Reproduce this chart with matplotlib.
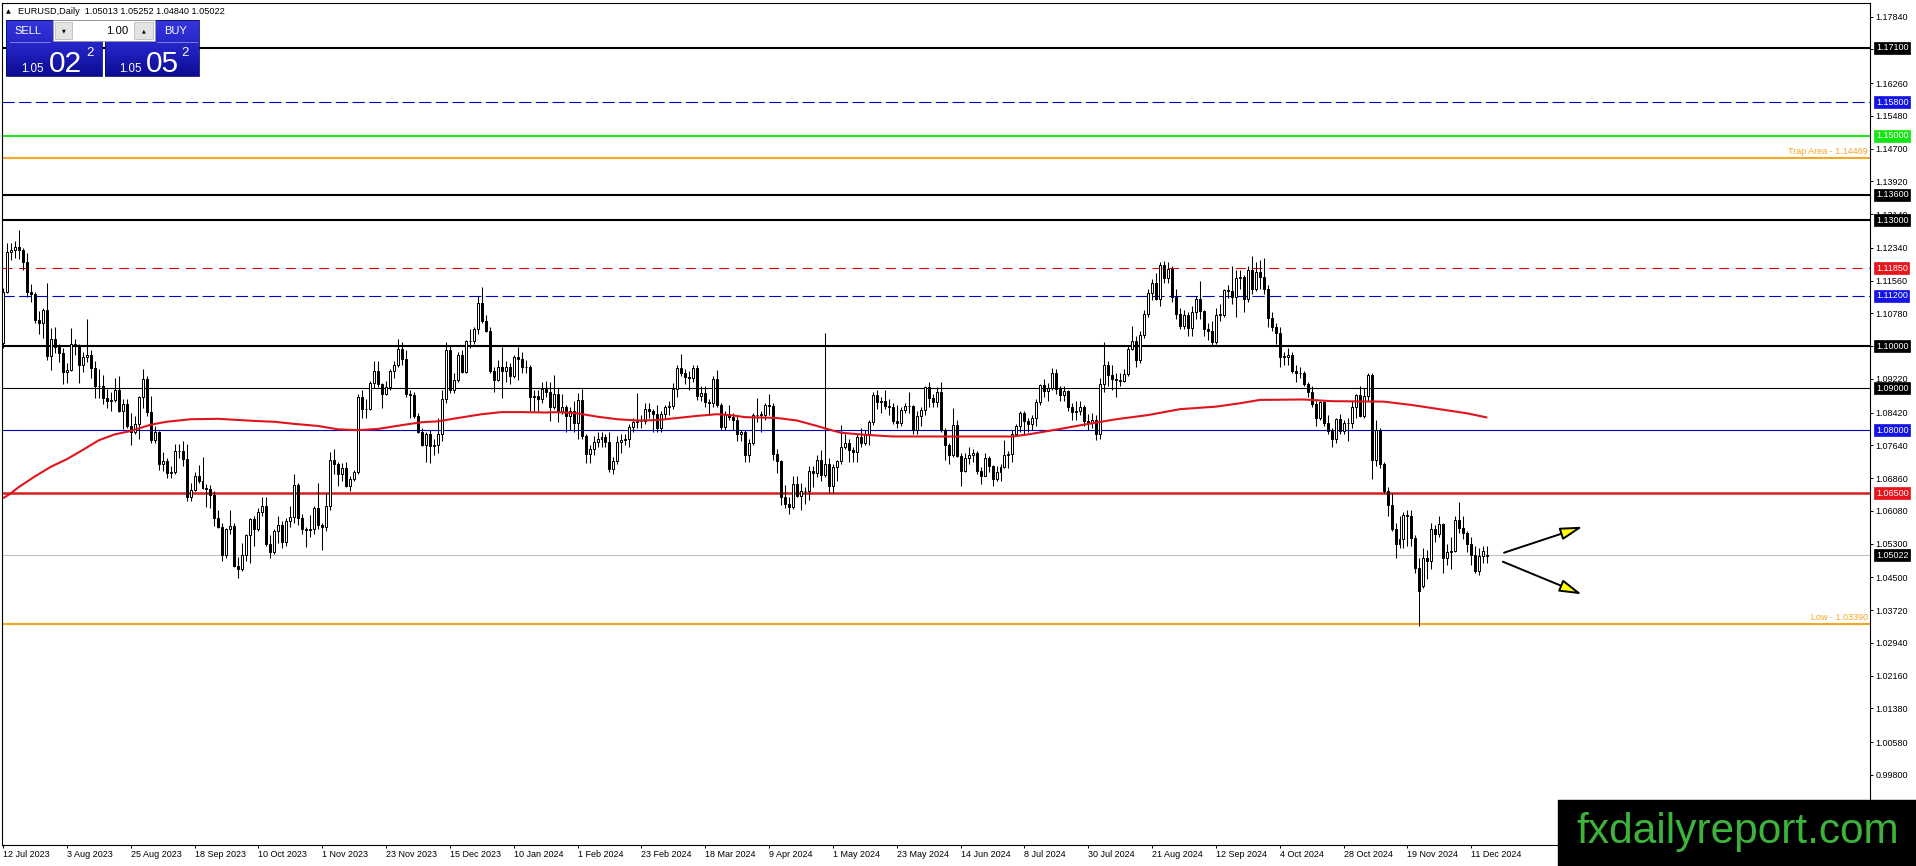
import matplotlib
matplotlib.use("Agg")
import matplotlib.pyplot as plt
import numpy as np
from matplotlib.patches import Rectangle
from matplotlib.colors import LinearSegmentedColormap

plt.rcParams['font.family'] = ['Liberation Sans', 'DejaVu Sans']

# ---------------- data (EURUSD daily, 12 Jul 2023 .. 17 Dec 2024) ----------------
opens = [
 1.1008,1.1129,1.1224,1.1229,1.1237,1.1228,1.1200,1.1129,1.1124,1.1063,
 1.1055,1.1087,1.0977,1.1016,1.0997,1.0983,1.0938,1.0944,1.1006,1.1002,
 1.0956,1.0974,1.0980,1.0948,1.0905,1.0905,1.0876,1.0870,1.0872,1.0895,
 1.0846,1.0863,1.0810,1.0795,1.0815,1.0880,1.0921,1.0843,1.0776,1.0795,
 1.0720,1.0726,1.0697,1.0700,1.0750,1.0750,1.0731,1.0642,1.0657,1.0690,
 1.0679,1.0662,1.0659,1.0645,1.0592,1.0570,1.0502,1.0566,1.0573,1.0478,
 1.0470,1.0503,1.0550,1.0588,1.0565,1.0605,1.0620,1.0530,1.0510,1.0560,
 1.0575,1.0535,1.0585,1.0593,1.0670,1.0590,1.0565,1.0563,1.0565,1.0615,
 1.0575,1.0570,1.0620,1.0728,1.0720,1.0695,1.0710,1.0667,1.0683,1.0700,
 1.0878,1.0850,1.0850,1.0912,1.0940,1.0911,1.0887,1.0903,1.0940,1.0955,
 1.0993,1.0969,1.0886,1.0884,1.0834,1.0795,1.0764,1.0792,1.0762,1.0765,
 1.0792,1.0873,1.0991,1.0895,1.0920,1.0980,1.0938,1.1011,1.1012,1.1040,
 1.1102,1.1060,1.1035,1.0940,1.0920,1.0950,1.0940,1.0950,1.0930,1.0973,
 1.0970,1.0950,1.0950,1.0878,1.0882,1.0875,1.0897,1.0890,1.0855,1.0885,
 1.0845,1.0855,1.0833,1.0845,1.0818,1.0872,1.0787,1.0743,1.0755,1.0772,
 1.0778,1.0784,1.0772,1.0708,1.0727,1.0773,1.0777,1.0778,1.0808,1.0820,
 1.0823,1.0822,1.0851,1.0845,1.0838,1.0805,1.0838,1.0855,1.0857,1.0897,
 1.0948,1.0937,1.0927,1.0925,1.0948,1.0882,1.0888,1.0868,1.0865,1.0922,
 1.0860,1.0808,1.0838,1.0832,1.0825,1.0790,1.0795,1.0742,1.0770,1.0835,
 1.0837,1.0837,1.0860,1.0857,1.0743,1.0727,1.0642,1.0624,1.0618,1.0672,
 1.0644,1.0655,1.0655,1.0703,1.0697,1.0728,1.0693,1.0720,1.0666,1.0712,
 1.0727,1.0760,1.0770,1.0754,1.0749,1.0783,1.0770,1.0790,1.0820,1.0883,
 1.0866,1.0870,1.0858,1.0856,1.0822,1.0818,1.0847,1.0858,1.0857,1.0801,
 1.0834,1.0848,1.0903,1.0877,1.0867,1.0892,1.0801,1.0765,1.0740,1.0812,
 1.0739,1.0703,1.0734,1.0740,1.0746,1.0702,1.0692,1.0733,1.0715,1.0683,
 1.0700,1.0713,1.0740,1.0743,1.0791,1.0811,1.0841,1.0823,1.0814,1.0829,
 1.0868,1.0907,1.0894,1.0900,1.0937,1.0898,1.0883,1.0893,1.0855,1.0843,
 1.0845,1.0855,1.0822,1.0816,1.0825,1.0790,1.0910,1.0955,1.0931,1.0921,
 1.0920,1.0917,1.0933,1.0993,1.1012,1.0966,1.1027,1.1077,1.1127,1.1150,
 1.1113,1.1192,1.1162,1.1184,1.1118,1.1077,1.1047,1.1073,1.1044,1.1082,
 1.1112,1.1083,1.1040,1.1036,1.1010,1.1075,1.1075,1.1133,1.1132,1.1118,
 1.1161,1.1164,1.1112,1.1180,1.1135,1.1177,1.1165,1.1135,1.1068,1.1045,
 1.1032,1.0975,1.0975,1.0980,1.0940,1.0936,1.0937,1.0910,1.0890,1.0862,
 1.0830,1.0867,1.0817,1.0798,1.0780,1.0827,1.0797,1.0816,1.0817,1.0856,
 1.0884,1.0834,1.0882,1.0932,1.0729,1.0801,1.0720,1.0655,1.0623,1.0564,
 1.0530,1.0540,1.0597,1.0596,1.0544,1.0473,1.0430,1.0497,1.0488,1.0566,
 1.0552,1.0577,1.0497,1.0510,1.0512,1.0587,1.0568,1.0555,1.0529,1.0502,
 1.0466,1.0500,1.05013]

highs = [
 1.1139,1.1245,1.1245,1.1250,1.1276,1.1234,1.1221,1.1148,1.1128,1.1083,
 1.1090,1.1149,1.1043,1.1046,1.1004,1.0995,1.0961,1.1042,1.1018,1.1004,
 1.0987,1.1065,1.0991,1.0965,1.0945,1.0932,1.0897,1.0892,1.0925,1.0930,
 1.0874,1.0875,1.0842,1.0833,1.0882,1.0946,1.0930,1.0882,1.0810,1.0799,
 1.0747,1.0734,1.0715,1.0768,1.0768,1.0775,1.0768,1.0675,1.0700,1.0718,
 1.0736,1.0673,1.0669,1.0655,1.0610,1.0580,1.0568,1.0610,1.0578,1.0498,
 1.0532,1.0553,1.0592,1.0595,1.0615,1.0640,1.0640,1.0550,1.0565,1.0595,
 1.0583,1.0590,1.0620,1.0695,1.0675,1.0600,1.0570,1.0598,1.0620,1.0675,
 1.0580,1.0650,1.0747,1.0755,1.0725,1.0722,1.0725,1.0690,1.0705,1.0887,
 1.0895,1.0873,1.0916,1.0965,1.0965,1.0913,1.0918,1.0945,1.0965,1.1017,
 1.1010,1.0990,1.0895,1.0890,1.0840,1.0805,1.0795,1.0800,1.0778,1.0828,
 1.0895,1.1010,1.1000,1.0935,1.0985,1.0990,1.1015,1.1040,1.1045,1.1120,
 1.1140,1.1075,1.1045,1.0950,1.0968,1.0998,1.0965,1.0960,1.0978,1.0998,
 1.0985,1.0968,1.0955,1.0895,1.0895,1.0915,1.0917,1.0915,1.0932,1.0900,
 1.0885,1.0860,1.0855,1.0870,1.0888,1.0897,1.0790,1.0765,1.0785,1.0795,
 1.0795,1.0790,1.0795,1.0735,1.0785,1.0790,1.0790,1.0815,1.0830,1.0888,
 1.0835,1.0865,1.0865,1.0850,1.0860,1.0845,1.0860,1.0870,1.0912,1.0955,
 1.0981,1.0945,1.0940,1.0955,1.0955,1.0905,1.0905,1.0875,1.0930,1.0942,
 1.0865,1.0845,1.0860,1.0840,1.0835,1.0800,1.0800,1.0780,1.0840,1.0876,
 1.0845,1.0865,1.0885,1.0865,1.0755,1.0730,1.0670,1.0640,1.0690,1.0690,
 1.0675,1.0665,1.0715,1.0715,1.0740,1.0752,1.1031,1.0733,1.0720,1.0730,
 1.0812,1.0790,1.0780,1.0760,1.0790,1.0805,1.0800,1.0825,1.0890,1.0895,
 1.0880,1.0895,1.0875,1.0865,1.0860,1.0855,1.0865,1.0890,1.0860,1.0845,
 1.0855,1.0905,1.0915,1.0885,1.0902,1.0915,1.0805,1.0770,1.0852,1.0825,
 1.0745,1.0745,1.0761,1.0755,1.0750,1.0712,1.0745,1.0738,1.0718,1.0715,
 1.0720,1.0776,1.0750,1.0800,1.0815,1.0845,1.0845,1.0830,1.0835,1.0875,
 1.0910,1.0922,1.0912,1.0948,1.0945,1.0905,1.0905,1.0895,1.0865,1.0870,
 1.0870,1.0860,1.0838,1.0840,1.0835,1.0925,1.1009,1.0965,1.0955,1.0935,
 1.0935,1.0945,1.1000,1.1047,1.1025,1.1035,1.1085,1.1135,1.1160,1.1175,
 1.1200,1.1202,1.1200,1.1190,1.1135,1.1090,1.1085,1.1080,1.1095,1.1120,
 1.1155,1.1085,1.1055,1.1060,1.1090,1.1100,1.1135,1.1145,1.1190,1.1180,
 1.1180,1.1170,1.1190,1.1214,1.1200,1.1205,1.1210,1.1145,1.1082,1.1055,
 1.1045,1.0985,1.0995,1.0985,1.0955,1.0950,1.0940,1.0915,1.0905,1.0870,
 1.0870,1.0870,1.0835,1.0805,1.0830,1.0838,1.0825,1.0830,1.0870,1.0885,
 1.0905,1.0900,1.0937,1.0937,1.0825,1.0805,1.0725,1.0665,1.0650,1.0580,
 1.0595,1.0605,1.0610,1.0610,1.0550,1.0495,1.0520,1.0515,1.0580,1.0575,
 1.0595,1.0578,1.0530,1.0545,1.0595,1.0630,1.0595,1.0560,1.0545,1.0525,
 1.0520,1.0525,1.05252]

lows = [
 1.0996,1.1127,1.1204,1.1210,1.1207,1.1180,1.1117,1.1104,1.1054,1.1029,
 1.1020,1.0968,1.0943,1.0983,1.0962,1.0911,1.0912,1.0940,1.0978,1.0913,
 1.0939,1.0962,1.0924,1.0877,1.0877,1.0863,1.0853,1.0846,1.0868,1.0843,
 1.0802,1.0805,1.0765,1.0790,1.0778,1.0852,1.0833,1.0770,1.0770,1.0705,
 1.0702,1.0686,1.0686,1.0695,1.0734,1.0715,1.0632,1.0632,1.0656,1.0675,
 1.0660,1.0617,1.0615,1.0573,1.0567,1.0488,1.0495,1.0552,1.0475,1.0448,
 1.0466,1.0488,1.0483,1.0525,1.0560,1.0595,1.0525,1.0495,1.0505,1.0532,
 1.0520,1.0525,1.0570,1.0580,1.0575,1.0553,1.0522,1.0545,1.0553,1.0565,
 1.0516,1.0560,1.0610,1.0695,1.0666,1.0680,1.0665,1.0655,1.0678,1.0695,
 1.0828,1.0830,1.0848,1.0900,1.0902,1.0852,1.0884,1.0895,1.0925,1.0950,
 1.0955,1.0880,1.0828,1.0830,1.0793,1.0762,1.0724,1.0723,1.0742,1.0745,
 1.0775,1.0865,1.0888,1.0888,1.0915,1.0935,1.0935,1.0995,1.1005,1.1030,
 1.1055,1.1033,1.0935,1.0892,1.0918,1.0876,1.0915,1.0910,1.0925,1.0920,
 1.0935,1.0935,1.0845,1.0845,1.0845,1.0865,1.0880,1.0822,1.0850,1.0820,
 1.0838,1.0795,1.0800,1.0795,1.0778,1.0780,1.0722,1.0722,1.0740,1.0760,
 1.0760,1.0760,1.0700,1.0695,1.0720,1.0745,1.0765,1.0760,1.0795,1.0805,
 1.0805,1.0815,1.0830,1.0795,1.0795,1.0795,1.0830,1.0835,1.0850,1.0880,
 1.0930,1.0910,1.0895,1.0915,1.0872,1.0870,1.0855,1.0835,1.0855,1.0855,
 1.0800,1.0800,1.0825,1.0800,1.0775,1.0775,1.0725,1.0725,1.0765,1.0820,
 1.0795,1.0825,1.0835,1.0728,1.0698,1.0622,1.0615,1.0601,1.0612,1.0640,
 1.0610,1.0625,1.0635,1.0665,1.0688,1.0680,1.0688,1.0650,1.0650,1.0680,
 1.0720,1.0755,1.0725,1.0725,1.0725,1.0760,1.0765,1.0765,1.0812,1.0850,
 1.0840,1.0850,1.0835,1.0815,1.0805,1.0810,1.0840,1.0840,1.0790,1.0790,
 1.0810,1.0835,1.0855,1.0855,1.0855,1.0795,1.0730,1.0720,1.0735,1.0735,
 1.0668,1.0700,1.0720,1.0725,1.0695,1.0672,1.0690,1.0700,1.0666,1.0680,
 1.0680,1.0710,1.0710,1.0725,1.0785,1.0795,1.0790,1.0795,1.0800,1.0810,
 1.0860,1.0880,1.0870,1.0895,1.0885,1.0870,1.0870,1.0845,1.0825,1.0825,
 1.0835,1.0810,1.0800,1.0805,1.0777,1.0780,1.0890,1.0905,1.0895,1.0880,
 1.0905,1.0915,1.0928,1.0990,1.0950,1.0960,1.1020,1.1070,1.1110,1.1110,
 1.1095,1.1150,1.1150,1.1105,1.1065,1.1040,1.1040,1.1025,1.1025,1.1065,
 1.1065,1.1025,1.1015,1.1001,1.1005,1.1060,1.1070,1.1115,1.1100,1.1070,
 1.1135,1.1080,1.1105,1.1125,1.1130,1.1135,1.1125,1.1045,1.1035,1.1005,
 1.0950,1.0955,1.0955,1.0935,1.0915,1.0925,1.0905,1.0880,1.0855,1.0810,
 1.0825,1.0810,1.0790,1.0761,1.0770,1.0790,1.0790,1.0775,1.0805,1.0830,
 1.0832,1.0830,1.0870,1.0683,1.0715,1.0710,1.0650,1.0595,1.0560,1.0497,
 1.0520,1.0520,1.0525,1.0525,1.0460,1.0335,1.0425,1.0445,1.0470,1.0535,
 1.0545,1.0460,1.0480,1.0470,1.0510,1.0555,1.0540,1.0510,1.0480,1.0460,
 1.0455,1.0485,1.04840]

closes = [
 1.1129,1.1224,1.1229,1.1237,1.1228,1.1200,1.1129,1.1124,1.1063,1.1055,
 1.1087,1.0977,1.1016,1.0997,1.0983,1.0938,1.0944,1.1006,1.1002,1.0956,
 1.0974,1.0980,1.0948,1.0905,1.0905,1.0876,1.0870,1.0872,1.0895,1.0846,
 1.0863,1.0810,1.0795,1.0815,1.0880,1.0921,1.0843,1.0776,1.0795,1.0720,
 1.0726,1.0697,1.0700,1.0750,1.0750,1.0731,1.0642,1.0657,1.0690,1.0679,
 1.0662,1.0659,1.0645,1.0592,1.0570,1.0502,1.0566,1.0573,1.0478,1.0470,
 1.0503,1.0550,1.0588,1.0565,1.0605,1.0620,1.0530,1.0510,1.0560,1.0575,
 1.0535,1.0585,1.0593,1.0670,1.0590,1.0565,1.0563,1.0565,1.0615,1.0575,
 1.0570,1.0620,1.0728,1.0720,1.0695,1.0710,1.0667,1.0683,1.0700,1.0878,
 1.0850,1.0850,1.0912,1.0940,1.0911,1.0887,1.0903,1.0940,1.0955,1.0993,
 1.0969,1.0886,1.0884,1.0834,1.0795,1.0764,1.0792,1.0762,1.0765,1.0792,
 1.0873,1.0991,1.0895,1.0920,1.0980,1.0938,1.1011,1.1012,1.1040,1.1102,
 1.1060,1.1035,1.0940,1.0920,1.0950,1.0940,1.0950,1.0930,1.0973,1.0970,
 1.0950,1.0950,1.0878,1.0882,1.0875,1.0897,1.0890,1.0855,1.0885,1.0845,
 1.0855,1.0833,1.0845,1.0818,1.0872,1.0787,1.0743,1.0755,1.0772,1.0778,
 1.0784,1.0772,1.0708,1.0727,1.0773,1.0777,1.0778,1.0808,1.0820,1.0823,
 1.0822,1.0851,1.0845,1.0838,1.0805,1.0838,1.0855,1.0857,1.0897,1.0948,
 1.0937,1.0927,1.0925,1.0948,1.0882,1.0888,1.0868,1.0865,1.0922,1.0860,
 1.0808,1.0838,1.0832,1.0825,1.0790,1.0795,1.0742,1.0770,1.0835,1.0837,
 1.0837,1.0860,1.0857,1.0743,1.0727,1.0642,1.0624,1.0618,1.0672,1.0644,
 1.0655,1.0655,1.0703,1.0697,1.0728,1.0693,1.0720,1.0666,1.0712,1.0727,
 1.0760,1.0770,1.0754,1.0749,1.0783,1.0770,1.0790,1.0820,1.0883,1.0866,
 1.0870,1.0858,1.0856,1.0822,1.0818,1.0847,1.0858,1.0857,1.0801,1.0834,
 1.0848,1.0903,1.0877,1.0867,1.0892,1.0801,1.0765,1.0740,1.0812,1.0739,
 1.0703,1.0734,1.0740,1.0746,1.0702,1.0692,1.0733,1.0715,1.0683,1.0700,
 1.0713,1.0740,1.0743,1.0791,1.0811,1.0841,1.0823,1.0814,1.0829,1.0868,
 1.0907,1.0894,1.0900,1.0937,1.0898,1.0883,1.0893,1.0855,1.0843,1.0845,
 1.0855,1.0822,1.0816,1.0825,1.0790,1.0910,1.0955,1.0931,1.0921,1.0920,
 1.0917,1.0933,1.0993,1.1012,1.0966,1.1027,1.1077,1.1127,1.1150,1.1113,
 1.1192,1.1162,1.1184,1.1118,1.1077,1.1047,1.1073,1.1044,1.1082,1.1112,
 1.1083,1.1040,1.1036,1.1010,1.1075,1.1075,1.1133,1.1132,1.1118,1.1161,
 1.1164,1.1112,1.1180,1.1135,1.1177,1.1165,1.1135,1.1068,1.1045,1.1032,
 1.0975,1.0975,1.0980,1.0940,1.0936,1.0937,1.0910,1.0890,1.0862,1.0830,
 1.0867,1.0817,1.0798,1.0780,1.0827,1.0797,1.0816,1.0817,1.0856,1.0884,
 1.0834,1.0882,1.0932,1.0729,1.0801,1.0720,1.0655,1.0623,1.0564,1.0530,
 1.0540,1.0597,1.0596,1.0544,1.0473,1.0418,1.0497,1.0488,1.0566,1.0552,
 1.0577,1.0497,1.0510,1.0512,1.0587,1.0568,1.0555,1.0529,1.0502,1.0466,
 1.0500,1.0513,1.05022]

# 200-period moving average, sampled from the chart (bar index, value)
ma_bars = [0,2,4,8,12,16,20,24,28,32,37,41,47,54,63,68,73,79,84,89,
           94,100,105,109,114,120,125,130,136,139,144,149,154,159,164,169,174,179,183,186,
           194,199,204,208,210,216,223,233,240,253,257,265,272,279,287,295,304,310,315,326,
           333,346,353,360,367,372]
ma_vals = [1.0638,1.0650,1.0665,1.0690,1.0713,1.0731,1.0753,1.0776,1.0790,1.0798,
           1.0813,1.0820,1.0826,1.0827,1.0822,1.0820,1.0815,1.0810,1.0802,1.0800,
           1.0803,1.0812,1.0819,1.0821,1.0829,1.0838,1.0843,1.0843,1.0842,1.0843,
           1.0840,1.0832,1.0826,1.0823,1.0824,1.0829,1.0834,1.0838,1.0835,1.0831,
           1.0829,1.0823,1.0810,1.0799,1.0794,1.0789,1.0785,1.0785,1.0785,1.0785,
           1.0790,1.0803,1.0815,1.0826,1.0836,1.0850,1.0856,1.0864,1.0872,1.0873,
           1.0869,1.0868,1.0860,1.0850,1.0840,1.0830]

# date axis labels (one every 16 bars)
date_labels = ["12 Jul 2023","3 Aug 2023","25 Aug 2023","18 Sep 2023","10 Oct 2023",
               "1 Nov 2023","23 Nov 2023","15 Dec 2023","10 Jan 2024","1 Feb 2024",
               "23 Feb 2024","18 Mar 2024","9 Apr 2024","1 May 2024","23 May 2024",
               "14 Jun 2024","8 Jul 2024","30 Jul 2024","21 Aug 2024","12 Sep 2024",
               "4 Oct 2024","28 Oct 2024","19 Nov 2024","11 Dec 2024"]
label_step = 16

# price scale ticks
price_ticks = [1.17840,1.17060,1.16260,1.15480,1.14700,1.13920,1.13140,1.12340,1.11560,
               1.10780,1.10000,1.09220,1.08420,1.07640,1.06860,1.06080,1.05300,1.04500,
               1.03720,1.02940,1.02160,1.01380,1.00580,0.99800]

# horizontal levels
levels = [1.1710, 1.1580, 1.1500, 1.14469, 1.1360, 1.1300, 1.1185, 1.1120,
          1.1000, 1.0900, 1.0800, 1.0650, 1.05022, 1.0339]
level_colors = ['#000000', '#0000cd', '#1ee61e', '#f5a623', '#000000', '#000000', '#e00000',
                '#0000cd', '#000000', '#000000', '#0000cd', '#d81e1e', '#c0c0c0', '#f5a623']
level_widths = [1.5, 0.8, 1.5, 1.5, 1.5, 1.5, 0.8, 0.8, 1.5, 0.8, 0.8, 1.8, 0.8, 1.5]
level_styles = ['-', (0, (11, 4)), '-', '-', '-', '-', (0, (9, 6)), (0, (11, 4)),
                '-', '-', '-', '-', '-', '-']
# right-scale boxes: None = no box
level_box = ['#000000', '#1414e6', '#14e614', None, '#000000', '#000000', '#e8141c',
             '#1414e6', '#000000', '#000000', '#1414e6', '#e8141c', '#000000', None]
level_text = {1.14469: "Trap Area - 1.14469", 1.0339: "Low - 1.03390"}

# forecast arrows (start bar, start price, end bar, end price)
arrows = [(376.2, 1.05085, 395.9, 1.05703),
          (375.9, 1.04871, 395.7, 1.04095)]

# ---------------- figure ----------------
W, H = 1916, 866
fig = plt.figure(figsize=(W / 100, H / 100), dpi=100, facecolor='white')
ax_left, ax_right, ax_top, ax_bot = 2.0, 1870.0, 2.7, 845.0
ax = fig.add_axes([ax_left / W, (H - ax_bot) / H, (ax_right - ax_left) / W, (ax_bot - ax_top) / H])
ax.set_facecolor('white')

bar_px = 3.99
x0_px = 3.0
ax.set_xlim((ax_left - x0_px) / bar_px, (ax_right - x0_px) / bar_px)
px_per_unit = 4203.0
ref_price, ref_y = 1.171, 47.7
ax.set_ylim(ref_price - (ax_bot - ref_y) / px_per_unit, ref_price + (ref_y - ax_top) / px_per_unit)

# levels
for lv, col, lw, ls in zip(levels, level_colors, level_widths, level_styles):
    ax.axhline(lv, color=col, lw=lw, linestyle=ls, zorder=1)

# candles
o = np.array(opens); hi = np.array(highs); lo = np.array(lows); c = np.array(closes)
idx = np.arange(len(c))
up = c >= o
ax.vlines(idx, lo, hi, color='black', lw=0.75, zorder=3)
bottom = np.minimum(o, c)
height = np.maximum(np.abs(c - o), 0.00003)
ax.bar(idx[up], height[up], bottom=bottom[up], width=0.5, color='white',
       edgecolor='black', lw=0.72, zorder=4)
ax.bar(idx[~up], height[~up], bottom=bottom[~up], width=0.5, color='black',
       edgecolor='black', lw=0.72, zorder=4)

# moving average
ax.plot(ma_bars, ma_vals, color='#e0141e', lw=1.5, zorder=5, solid_capstyle='butt')

# arrows
for (xs, ys, xe, ye) in arrows:
    ax.annotate('', xy=(xe, ye), xytext=(xs, ys),
                arrowprops=dict(arrowstyle='-|>,head_length=1.35,head_width=0.38',
                                fc='#ffff00', ec='black', lw=1.4,
                                shrinkA=0, shrinkB=0, mutation_scale=10),
                zorder=6)

# axes styling
for sp in ax.spines.values():
    sp.set_color('black')
    sp.set_linewidth(0.8)
ax.yaxis.tick_right()
ax.set_yticks(price_ticks)
ax.set_yticklabels([f"{v:.5f}" for v in price_ticks])
ax.tick_params(axis='y', which='both', length=2.5, width=0.7, pad=1.5, labelsize=6.5,
               colors='black', right=True, left=False)
ax.set_xticks([i * label_step for i in range(len(date_labels))])
ax.set_xticklabels(date_labels, ha='left')
ax.tick_params(axis='x', length=2.5, width=0.7, pad=1.0, labelsize=6.5, colors='black')

# right price boxes
for lv, bc in zip(levels, level_box):
    if bc is None:
        continue
    ax.annotate(f"{lv:.5f}", xy=(1.0, lv), xycoords=('axes fraction', 'data'),
                xytext=(4.3, 0), textcoords='offset points', ha='left', va='center',
                fontsize=6.5, color='white', zorder=20, annotation_clip=False,
                bbox=dict(boxstyle='square,pad=0.17', fc=bc, ec=bc, lw=0.5))

# text labels on lines
for lv, txt in level_text.items():
    ax.annotate(txt, xy=(1.0, lv), xycoords=('axes fraction', 'data'),
                xytext=(-1.5, 1.5), textcoords='offset points', ha='right', va='bottom',
                fontsize=6.5, color='#f5a623', zorder=7)

# ---------------- overlay: header, trade panel, watermark ----------------
ov = fig.add_axes([0, 0, 1, 1], zorder=30)
ov.set_facecolor('none')
ov.axis('off')

ov.text(5.5, 11.5, '\u25B2', fontsize=4.5, va='center', ha='left', color='black',
        family=['DejaVu Sans'])
ov.text(18, 11.5, 'EURUSD,Daily  1.05013 1.05252 1.04840 1.05022', fontsize=6.6,
        va='center', ha='left', color='black')

blue_cm = LinearSegmentedColormap.from_list('mtblue', ['#3535dc', '#2323c4', '#0c0c92'])
grad = np.linspace(0, 1, 64).reshape(-1, 1)
for (bx, bw) in [(6, 96), (105, 94)]:
    ov.imshow(grad, cmap=blue_cm, extent=[bx, bx + bw, 76, 20], aspect='auto',
              interpolation='bilinear', zorder=1)
    ov.add_patch(Rectangle((bx, 20), bw, 56, fill=False, ec='#0a0a70', lw=0.6, zorder=2))

# lot field
ov.add_patch(Rectangle((53, 20), 102, 21, fc='white', ec='#9a9a9a', lw=0.6, zorder=3))
ov.add_patch(Rectangle((55, 22), 17, 17, fc='#e4e4e4', ec='#b0b0b0', lw=0.5, zorder=4))
ov.add_patch(Rectangle((134, 22), 19, 17, fc='#e4e4e4', ec='#b0b0b0', lw=0.5, zorder=4))
ov.text(63.5, 30.5, '\u25BC', fontsize=3.5, ha='center', va='center', color='black',
        family=['DejaVu Sans'], zorder=5)
ov.text(143.5, 30.5, '\u25B2', fontsize=3.5, ha='center', va='center', color='black',
        family=['DejaVu Sans'], zorder=5)
ov.text(128, 30.5, '1.00', fontsize=8.2, ha='right', va='center', color='black', zorder=5)

ov.text(28, 30.5, 'SELL', fontsize=8, ha='center', va='center', color='white', zorder=5)
ov.text(176, 30.5, 'BUY', fontsize=8, ha='center', va='center', color='white', zorder=5)
ov.plot([10, 50], [41.5, 41.5], color='#8d8df0', lw=0.6, zorder=5)
ov.plot([157, 197], [41.5, 41.5], color='#8d8df0', lw=0.6, zorder=5)

for (x_small, x_big, x_sup, big) in [(21.5, 48.5, 86, '02'), (119, 145.5, 181.5, '05')]:
    ov.text(x_small, 71.5, '1.05', fontsize=8.3, ha='left', va='baseline', color='white', zorder=5)
    ov.text(x_big, 71.5, big, fontsize=21.5, ha='left', va='baseline', color='white', zorder=5)
    ov.text(x_sup, 56, '2', fontsize=9.5, ha='left', va='baseline', color='white', zorder=5)

# watermark
ov.add_patch(Rectangle((1558, 800), 358, 66, fc='black', ec='black', zorder=3))
ov.text(1738, 832, 'fxdailyreport.com', fontsize=30.5, ha='center', va='center',
        color='#3cb43c', zorder=4)

ov.set_xlim(0, W)
ov.set_ylim(H, 0)

fig.savefig('out.png', dpi=100, facecolor='white')
